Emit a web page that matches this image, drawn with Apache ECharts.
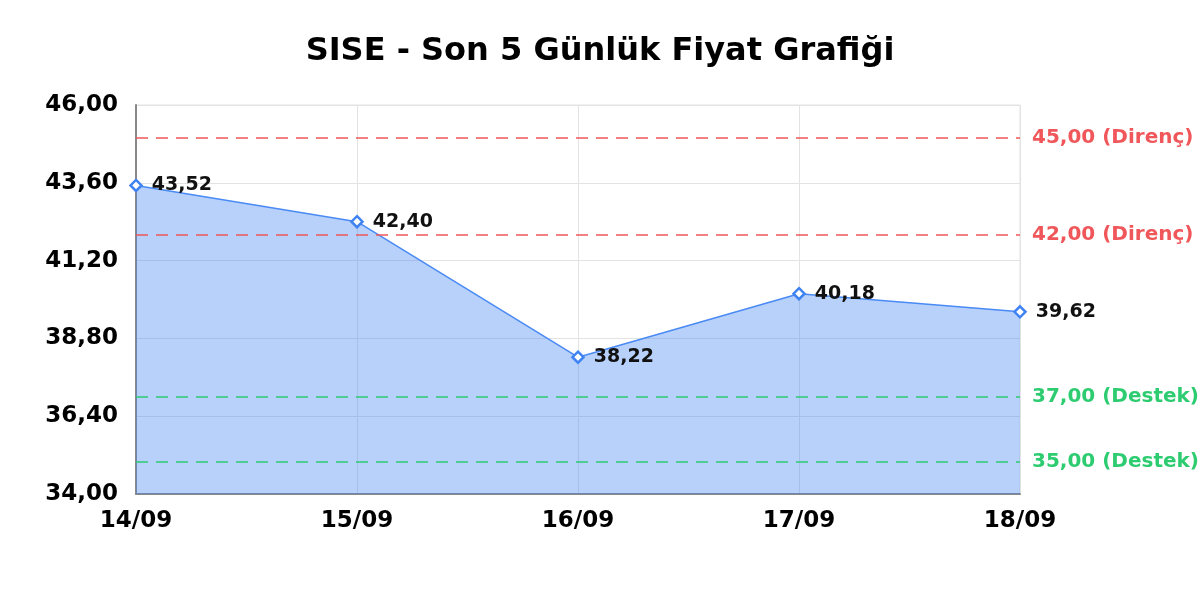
<!DOCTYPE html>
<html>
<head>
<meta charset="utf-8">
<title>SISE</title>
<script src="https://cdn.jsdelivr.net/npm/echarts@6/dist/echarts.min.js"></script>
<style>
  html, body { height: 100%; margin: 0; background: #fff; }
</style>
</head>
<body>
<div id="main" style="width:1200px;height:600px;"></div>
<script type="text/javascript">
// veri
var days = ['14/09', '15/09', '16/09', '17/09', '18/09'];
var prices = [43.52, 42.40, 38.22, 40.18, 39.62];
var resistance = [45, 42];
var support = [37, 35];
var yMin = 34, yMax = 46, yStep = 2.4;

function fmt(v) {
  return v.toFixed(2).replace('.', ',');
}

var levelLines = [];
resistance.forEach(function (v) {
  levelLines.push({
    yAxis: v,
    lineStyle: { color: '#f0575a' },
    label: { formatter: fmt(v) + ' (Direnç)', color: '#f0575a' }
  });
});
support.forEach(function (v) {
  levelLines.push({
    yAxis: v,
    lineStyle: { color: '#2ecc71' },
    label: { formatter: fmt(v) + ' (Destek)', color: '#2ecc71' }
  });
});

var font = 'DejaVu Sans';
var myChart = echarts.init(document.getElementById('main'));
var option = {
  animation: false,
  title: {
    text: 'SISE - Son 5 Günlük Fiyat Grafiği',
    left: 'center',
    top: 31,
    textStyle: { fontFamily: font, fontWeight: 'bold', fontSize: 32, color: '#000' }
  },
  grid: { left: 136, right: 180, top: 105, bottom: 106, show: true, borderColor: '#e3e3e3', borderWidth: 1 },
  xAxis: {
    type: 'category',
    data: days,
    boundaryGap: false,
    axisLine: { lineStyle: { color: '#888', width: 2 } },
    axisTick: { show: false },
    splitLine: { show: true, lineStyle: { color: '#e3e3e3' } },
    axisLabel: { fontFamily: font, fontWeight: 'bold', fontSize: 23, color: '#000', margin: 16 }
  },
  yAxis: {
    type: 'value',
    min: yMin,
    max: yMax,
    interval: yStep,
    axisLine: { show: true, lineStyle: { color: '#888', width: 2 } },
    axisTick: { show: false },
    splitLine: { lineStyle: { color: '#e3e3e3' } },
    axisLabel: {
      fontFamily: font, fontWeight: 'bold', fontSize: 23, color: '#000', margin: 18,
      formatter: function (v) { return fmt(v); }
    }
  },
  series: [{
    type: 'line',
    data: prices,
    symbol: 'diamond',
    symbolSize: 11,
    showAllSymbol: true,
    lineStyle: { color: '#4a8af4', width: 1.5 },
    itemStyle: { color: '#fff', borderColor: '#3f83f2', borderWidth: 2.5 },
    areaStyle: { color: '#4285f4', opacity: 0.38, origin: 'start' },
    label: {
      show: true,
      position: 'right',
      distance: 9,
      fontFamily: font,
      fontWeight: 'bold',
      fontSize: 19,
      color: '#111',
      formatter: function (p) { return fmt(p.value); }
    },
    markLine: {
      silent: true,
      symbol: 'none',
      lineStyle: { type: [12, 8], width: 1.5 },
      label: { position: 'end', distance: 12, fontFamily: font, fontWeight: 'bold', fontSize: 20 },
      data: levelLines
    },
    z: 3
  }]
};
myChart.setOption(option);
</script>
</body>
</html>
